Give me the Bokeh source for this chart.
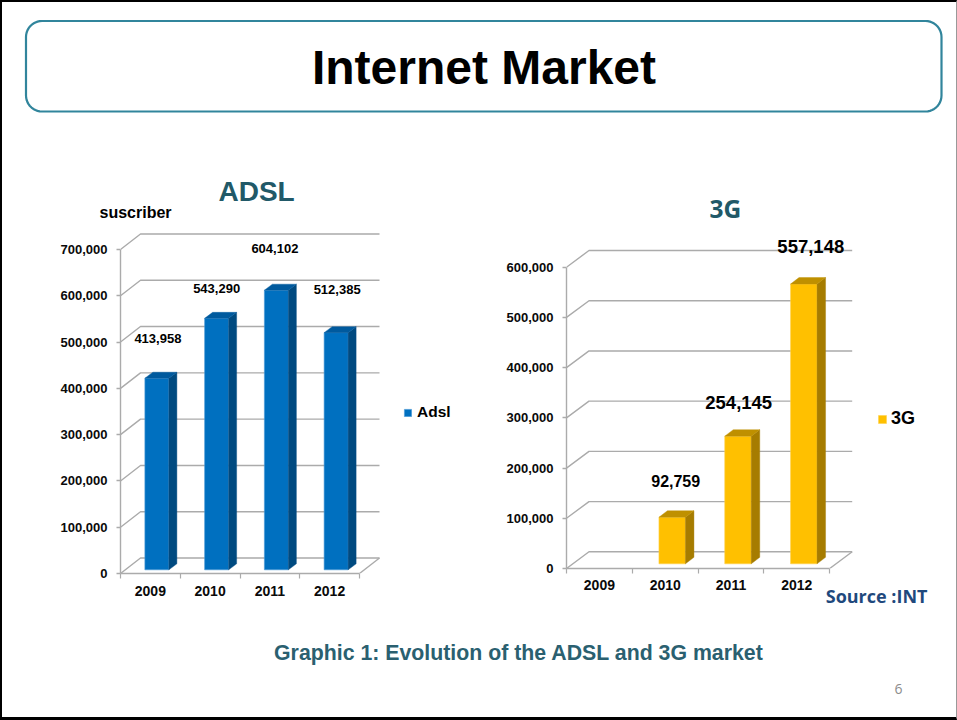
import numpy as np
from bokeh.core.properties import value
from bokeh.embed import file_html
from bokeh.layouts import column, row
from bokeh.models import FixedTicker, Label, Legend, LegendItem, NumeralTickFormatter, Range1d, Title
from bokeh.plotting import figure
from bokeh.resources import INLINE

# Market figures
years = ["2009", "2010", "2011", "2012"]
adsl_subscribers = [413958, 543290, 604102, 512385]
g3_subscribers = [None, 92759, 254145, 557148]
adsl_ticks = [0, 100000, 200000, 300000, 400000, 500000, 600000, 700000]
g3_ticks = [0, 100000, 200000, 300000, 400000, 500000, 600000]

FONT = "Liberation Sans"
SANS_ALT = "Open Sans"
TEAL = "#215968"
WALL = "#ABABAB"
INK = "#0A0A0A"

# Page origin inside the black frame
OX, OY = 2, 2
PAGE_W, PAGE_H = 957, 720
HEAD_BOTTOM = 130
FRAME_TOP = 225
CHART_BOTTOM = 625
SPLIT_X = 470


def blank(width, height, x0, x1, y0, y1):
    f = figure(width=width, height=height, x_range=Range1d(x0, x1), y_range=Range1d(y0, y1),
               output_backend="svg", toolbar_location=None, x_axis_location=None, y_axis_location=None,
               min_border=0, outline_line_color=None, background_fill_color="white",
               border_fill_color="white", frame_align=False, title=None)
    f.grid.visible = False
    return f


def put_text(f, x, y, text, size, color=INK, style="bold", font=FONT):
    f.add_layout(Label(x=x, y=y, text=text, text_font=font, text_font_size=f"{size}px",
                       text_font_style=style, text_color=color, text_align="center",
                       text_baseline="middle"))


def side_title(f, place, text, size, color, offset, standoff, align="left", font=FONT):
    """Text in a panel next to the frame, so it may reach past the frame's edges."""
    f.add_layout(Title(text=text, text_font=font, text_font_size=f"{size}px", text_font_style="bold",
                       text_color=color, align=align, offset=offset, standoff=standoff), place)


def rounded_outline(left, top, right, bottom, r):
    t = np.linspace(0, np.pi / 2, 12)
    xs = np.concatenate([right - r + r * np.sin(t), right - r + r * np.cos(t),
                         left + r - r * np.sin(t), left + r - r * np.cos(t)])
    ys = np.concatenate([top + r - r * np.cos(t), bottom - r + r * np.sin(t),
                         bottom - r + r * np.cos(t), top + r - r * np.sin(t)])
    return xs, ys


def bar_chart(years, series, ticks, left_px, width, zero_y, unit_px, y_px_per_unit,
              wall_dx, wall_dy, bar_w, bar_dx, bar_dy, bar_shift, base_lift, faces, lifts, sizes,
              label_dx, cat_size, cat_standoff):
    """3-D looking column chart drawn in screen-calibrated data units."""
    frame_w = width - (left_px - (OX if left_px < SPLIT_X else SPLIT_X))
    frame_h = zero_y - FRAME_TOP
    height = CHART_BOTTOM - HEAD_BOTTOM
    px = 1.0 / unit_px
    py = 1.0 / y_px_per_unit

    f = figure(width=width, height=height, title=None,
               x_range=Range1d(0, frame_w * px), y_range=Range1d(0, frame_h * py),
               output_backend="svg", toolbar_location=None, frame_align=False,
               min_border_left=width - frame_w, min_border_right=0,
               min_border_top=FRAME_TOP - HEAD_BOTTOM,
               min_border_bottom=CHART_BOTTOM - zero_y,
               outline_line_color=None, background_fill_color="white", border_fill_color="white")
    f.grid.visible = False

    n = len(years)
    wx, wy = wall_dx * px, wall_dy * py

    # Back wall gridlines with their diagonals on the side wall
    xs_lines, ys_lines = [], []
    for t in ticks:
        xs_lines.append([0, wx, n + wx])
        ys_lines.append([t, t + wy, t + wy])
    xs_lines.append([n, n + wx])
    ys_lines.append([0, wy])
    f.multi_line(xs_lines, ys_lines, line_color=WALL, line_width=1.4)

    # Columns: front, side and top faces
    kept = [(i, v) for i, v in enumerate(series) if v is not None]
    base = base_lift * py
    hw = bar_w * px / 2
    cx = [i + 0.5 + bar_shift * px for i, _ in kept]
    vals = [v for _, v in kept]
    front = f.quad(left=[c - hw for c in cx], right=[c + hw for c in cx],
                   bottom=[base] * len(vals), top=[v + base for v in vals],
                   fill_color=faces[0], line_color=faces[3], line_width=0.6)
    bx, by = bar_dx * px, bar_dy * py
    f.patches([[c + hw, c + hw + bx, c + hw + bx, c + hw] for c in cx],
              [[base, base + by, v + base + by, v + base] for v in vals],
              fill_color=faces[1], line_color=faces[1], line_width=0.4)
    f.patches([[c - hw, c - hw + bx, c + hw + bx, c + hw] for c in cx],
              [[v + base, v + base + by, v + base + by, v + base] for v in vals],
              fill_color=faces[2], line_color=faces[2], line_width=0.4)

    # Value labels floating over the columns
    for (i, v), c, lift, size, dx in zip(kept, cx, lifts, sizes, label_dx):
        f.text(x=[c + dx * px], y=[v + base + lift * py], text=[f"{v:,}"],
               text_font=value(FONT), text_font_style="bold", text_font_size=f"{size}px",
               text_align="center", text_baseline="middle", text_color="#000000")

    # Axes
    ya = f.yaxis[0]
    ya.ticker = FixedTicker(ticks=ticks)
    ya.bounds = (0, ticks[-1])
    ya.formatter = NumeralTickFormatter(format="0,0")
    ya.major_label_text_font = FONT
    ya.major_label_text_font_style = "bold"
    ya.major_label_text_font_size = "13px"
    ya.major_label_text_color = INK
    ya.major_label_standoff = 9
    ya.major_tick_in = 0
    ya.major_tick_out = 4
    ya.minor_tick_line_color = None
    ya.major_tick_line_color = WALL
    ya.axis_line_color = WALL
    ya.axis_line_width = 1.4
    ya.major_tick_line_width = 1.4

    xa = f.xaxis[0]
    centers = [i + 0.5 for i in range(n)]
    xa.ticker = FixedTicker(ticks=centers, minor_ticks=list(range(n + 1)))
    xa.major_label_overrides = {c: y for c, y in zip(centers, years)}
    xa.bounds = (0, n)
    xa.major_label_text_font = FONT
    xa.major_label_text_font_style = "bold"
    xa.major_label_text_font_size = f"{cat_size}px"
    xa.major_label_text_color = INK
    xa.major_label_standoff = cat_standoff
    xa.major_tick_line_color = None
    xa.major_tick_in = 0
    xa.major_tick_out = 0
    xa.minor_tick_in = 0
    xa.minor_tick_out = 5
    xa.minor_tick_line_color = WALL
    xa.minor_tick_line_width = 1.2
    xa.axis_line_color = WALL
    xa.axis_line_width = 1.4
    return f, front


# Page header
head = blank(PAGE_W - OX - 2, HEAD_BOTTOM - OY, OX, PAGE_W - 2, HEAD_BOTTOM, OY)
bx, by = rounded_outline(25.5, 20.5, 941, 111, 16)
head.patch(bx, by, fill_color="white", line_color="#31859C", line_width=2.2)
put_text(head, 483.5, 67, "Internet Market", 48, color="#000000")

# ADSL chart
adsl, adsl_front = bar_chart(
    years, adsl_subscribers, adsl_ticks, 120, SPLIT_X - OX, 573, 59.75, 324 / 700000,
    20, 15.5, 24, 8, 6, 6.5, 3.7, ("#0070C0", "#004A80", "#005A9E", "#4C9BD6"),
    [40, 30, 41.5, 43], [13, 13, 13, 13], [1, 0, -1.5, 1], 14, 7)
leg = Legend(items=[LegendItem(label="Adsl", renderers=[adsl_front], index=0)],
             location=(283, 152), orientation="vertical", border_line_color=None,
             background_fill_alpha=0, padding=0, margin=0, glyph_width=9, glyph_height=9,
             label_standoff=5, label_text_font=FONT, label_text_font_style="bold",
             label_text_font_size="15.5px", label_text_color="#000000", spacing=0)
adsl.add_layout(leg, "center")
side_title(adsl, "above", "suscriber", 16, "#000000", 99 - 120, 10)
side_title(adsl, "above", "ADSL", 28, TEAL, 218 - 120, -21)

# 3G chart
g3, g3_front = bar_chart(
    years, g3_subscribers, g3_ticks, 566, PAGE_W - 2 - SPLIT_X, 568, 65.8, 301.3 / 600000,
    22.5, 16.7, 26.5, 8.5, 6.5, 7, 4.7, ("#FFC000", "#A67C00", "#BF9000", "#FFD24D"),
    [36, 34, 38], [16, 18.5, 18.5], [3.5, 0.7, 7], 14, 6)
leg3 = Legend(items=[LegendItem(label="3G", renderers=[g3_front], index=0)],
              location=(311, 139), orientation="vertical", border_line_color=None,
              background_fill_alpha=0, padding=0, margin=0, glyph_width=10, glyph_height=10,
              label_standoff=4, label_text_font=FONT, label_text_font_style="bold",
              label_text_font_size="18px", label_text_color="#000000", spacing=0)
g3.add_layout(leg3, "center")
side_title(g3, "above", "3G", 24.5, TEAL, 709 - 566, 2, font=SANS_ALT)
side_title(g3, "below", "Source :INT", 18, "#1F497D", PAGE_W - 2 - 927, -22, align="right", font=SANS_ALT)

# Caption and page number
foot = blank(PAGE_W - OX - 2, PAGE_H - 3 - CHART_BOTTOM, OX, PAGE_W - 2, PAGE_H - 3, CHART_BOTTOM)
put_text(foot, 518.5, 652, "Graphic 1: Evolution of the ADSL and 3G market", 21.3, color="#2A6070")
put_text(foot, 898, 688, "6", 14, color="#8C8C8C", style="normal", font=SANS_ALT)

page = column(head, row(adsl, g3, spacing=0), foot, spacing=0, width=PAGE_W, height=PAGE_H,
              styles={"border-left": "2px solid #000", "border-top": "2px solid #000",
                      "border-bottom": "3px solid #000", "border-right": "1px solid #999",
                      "box-sizing": "border-box"})

open("out.html", "w").write(file_html(page, INLINE))
